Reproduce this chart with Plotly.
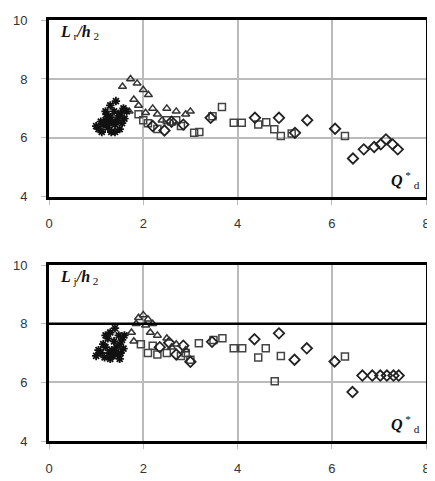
import plotly.graph_objects as go

# ---- Top panel (L_r/h_2) ----
top_cross_x = [1.0, 1.05, 1.1, 1.12, 1.15, 1.2, 1.22, 1.25, 1.28, 1.3, 1.32, 1.35, 1.38, 1.4, 1.42, 1.45, 1.48, 1.5, 1.52, 1.55, 1.58, 1.6, 1.65, 1.3, 1.4, 1.2]
top_cross_y = [6.4, 6.3, 6.55, 6.2, 6.45, 6.6, 6.8, 6.35, 6.5, 6.7, 6.2, 6.55, 6.9, 6.45, 7.25, 6.6, 6.75, 6.3, 6.85, 6.5, 7.0, 6.65, 6.9, 7.1, 6.2, 6.9]
top_tri_x = [1.73, 1.56, 1.87, 2.0, 2.11, 1.8, 1.9, 2.2, 2.3, 2.5, 2.7, 2.9, 1.7, 2.05, 2.4, 2.6, 3.0]
top_tri_y = [8.0, 7.74, 7.85, 7.63, 7.46, 7.3, 7.1, 7.0, 6.8, 7.0, 6.9, 6.8, 6.9, 6.85, 6.6, 6.5, 6.9]
top_sq_x = [1.9, 2.1, 2.3, 2.5, 2.8, 3.08, 3.19, 3.47, 3.67, 3.92, 4.09, 4.44, 4.61, 4.78, 4.92, 5.15, 6.28, 2.0, 2.7]
top_sq_y = [6.8, 6.5, 6.3, 6.6, 6.4, 6.17, 6.2, 6.73, 7.05, 6.51, 6.51, 6.45, 6.53, 6.29, 6.06, 6.15, 6.06, 6.6, 6.6]
top_dia_x = [2.2, 2.45, 2.6, 2.85, 3.43, 4.37, 4.88, 5.22, 5.48, 6.07, 6.45, 6.68, 6.90, 7.04, 7.15, 7.29, 7.40]
top_dia_y = [6.4, 6.25, 6.55, 6.45, 6.68, 6.68, 6.68, 6.17, 6.6, 6.31, 5.30, 5.61, 5.69, 5.78, 5.95, 5.78, 5.61]

# ---- Bottom panel (L_j/h_2) ----
bot_cross_x = [1.0, 1.05, 1.1, 1.15, 1.18, 1.2, 1.25, 1.28, 1.3, 1.33, 1.35, 1.38, 1.4, 1.43, 1.45, 1.48, 1.5, 1.52, 1.55, 1.58, 1.6, 1.3, 1.4, 1.2, 1.5]
bot_cross_y = [6.9, 7.1, 7.0, 7.3, 6.85, 7.2, 7.5, 7.0, 7.7, 7.1, 6.9, 7.4, 7.85, 7.2, 6.95, 7.6, 7.3, 7.0, 7.45, 7.15, 7.6, 6.8, 7.0, 7.6, 6.8]
bot_tri_x = [1.9, 2.0, 2.1, 1.85, 2.05, 2.2, 1.75, 2.3, 2.5, 2.7, 2.9, 2.15, 1.8, 2.6]
bot_tri_y = [8.2, 8.3, 8.15, 8.0, 7.95, 8.0, 7.7, 7.6, 7.5, 7.3, 7.1, 7.7, 7.4, 7.2]
bot_sq_x = [1.95, 2.1, 2.3, 2.5, 2.8, 3.0, 3.18, 3.49, 3.68, 3.92, 4.1, 4.44, 4.6, 4.79, 4.92, 6.28, 2.2, 2.9]
bot_sq_y = [7.3, 7.0, 6.95, 7.0, 6.9, 6.77, 7.33, 7.44, 7.5, 7.16, 7.16, 6.85, 7.16, 6.04, 6.90, 6.88, 7.25, 7.0]
bot_dia_x = [2.35, 2.55, 2.7, 2.85, 3.0, 3.46, 4.36, 4.88, 5.21, 5.47, 6.06, 6.44, 6.65, 6.86, 7.03, 7.17, 7.31, 7.42]
bot_dia_y = [7.2, 7.35, 6.95, 7.25, 6.7, 7.38, 7.47, 7.67, 6.77, 7.16, 6.71, 5.67, 6.23, 6.23, 6.23, 6.23, 6.23, 6.23]

x_ticks = [0, 2, 4, 6, 8]
y_ticks = [4, 6, 8, 10]

fig = go.Figure()

def add_panel(xa, ya, cx, cy, tx, ty, sx, sy, dx, dy):
    fig.add_trace(go.Scatter(x=sx, y=sy, mode="markers", xaxis=xa, yaxis=ya,
                             marker=dict(symbol="square-open", size=7, color="#444",
                                         line=dict(width=1.5))))
    fig.add_trace(go.Scatter(x=dx, y=dy, mode="markers", xaxis=xa, yaxis=ya,
                             marker=dict(symbol="diamond-open", size=8, color="#222",
                                         line=dict(width=1.8))))
    fig.add_trace(go.Scatter(x=tx, y=ty, mode="markers", xaxis=xa, yaxis=ya,
                             marker=dict(symbol="triangle-up-open", size=7, color="#333",
                                         line=dict(width=1.5))))
    fig.add_trace(go.Scatter(x=cx, y=cy, mode="markers", xaxis=xa, yaxis=ya,
                             marker=dict(symbol="asterisk-open", size=7, color="#111",
                                         line=dict(width=1.8))))

add_panel("x", "y", top_cross_x, top_cross_y, top_tri_x, top_tri_y, top_sq_x, top_sq_y, top_dia_x, top_dia_y)
add_panel("x2", "y2", bot_cross_x, bot_cross_y, bot_tri_x, bot_tri_y, bot_sq_x, bot_sq_y, bot_dia_x, bot_dia_y)

tickfont = dict(family="Liberation Sans, Arial", size=13, color="#333")
common = dict(showgrid=True, gridcolor="#bbbbbb", gridwidth=1.5,
              showline=True, linecolor="black", linewidth=3, mirror=True,
              ticks="outside", ticklen=5, tickcolor="#bbbbbb",
              tickfont=tickfont, zeroline=False)
xcommon = dict(range=[0, 8], tickvals=x_ticks, ticktext=[str(v) for v in x_ticks],
               ticklabelstandoff=8, **common)
ycommon = dict(range=[4, 10], tickvals=y_ticks, ticktext=[str(v) for v in y_ticks],
               ticklabelstandoff=11, **common)

fig.update_layout(
    xaxis=dict(domain=[0, 1], anchor="y", **xcommon),
    yaxis=dict(domain=[0.580, 1], anchor="x", **ycommon),
    xaxis2=dict(domain=[0, 1], anchor="y2", **xcommon),
    yaxis2=dict(domain=[0, 0.418], anchor="x2", **ycommon),
)

# thick reference line at 8 in the lower panel
fig.add_shape(type="line", xref="x2 domain", yref="y2", x0=0, x1=1, y0=8, y1=8,
              line=dict(color="black", width=2.5))

lab_font = dict(family="Liberation Serif, Times New Roman", size=16, color="#111")
fig.add_annotation(xref="x domain", yref="y domain", x=0.025, y=0.93, xanchor="left", yanchor="middle",
                   text="<b><i>L</i></b><sub> r</sub><b><i>/h</i></b><sub> 2</sub>", showarrow=False, font=lab_font)
fig.add_annotation(xref="x2 domain", yref="y2 domain", x=0.025, y=0.93, xanchor="left", yanchor="middle",
                   text="<b><i>L</i></b><sub> j</sub><b><i>/h</i></b><sub> 2</sub>", showarrow=False, font=lab_font)
fig.add_annotation(xref="x domain", yref="y domain", x=0.99, y=0.02, xanchor="right", yanchor="bottom",
                   text="<b><i>Q</i></b><sup> *</sup><sub> d</sub>", showarrow=False, font=lab_font)
fig.add_annotation(xref="x2 domain", yref="y2 domain", x=0.99, y=0.02, xanchor="right", yanchor="bottom",
                   text="<b><i>Q</i></b><sup> *</sup><sub> d</sub>", showarrow=False, font=lab_font)

# page body has an 8px margin, so the figure is sized/offset to land on the reference pixels
fig.update_layout(width=427, height=473, showlegend=False,
                  margin=dict(l=34, r=5, t=8, b=39),
                  plot_bgcolor="white", paper_bgcolor="white")

fig.write_html("out.html")
